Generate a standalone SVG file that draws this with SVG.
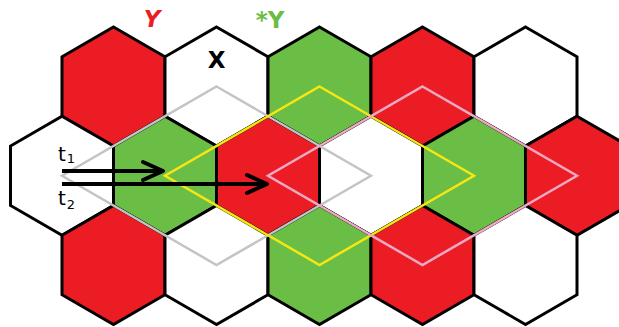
<svg xmlns="http://www.w3.org/2000/svg" xmlns:xlink="http://www.w3.org/1999/xlink" width="619" height="327" viewBox="0 0 619 327">
<style>
.hex{stroke:#000;stroke-width:3;stroke-linejoin:miter}
.r{fill:#ec1c24}
.g{fill:#6abd45}
.w{fill:#fff}
.rh{fill:none;stroke-width:2.5;stroke-linejoin:miter}
.gray{stroke:#c4c4c4}
.yel{stroke:#f7e614}
.pink{stroke:#eeaac4}
.arr{fill:none;stroke:#000;stroke-width:4;marker-end:url(#chev)}
.lbl{font-family:"DejaVu Sans","Liberation Sans",sans-serif;font-weight:bold;font-size:23px;text-anchor:middle}
.t{font-family:"DejaVu Sans","Liberation Sans",sans-serif;font-size:20px;fill:#000}
</style>
<defs>
<polygon id="hx" points="0,-59.5 51.5,-29.75 51.5,29.75 0,59.5 -51.5,29.75 -51.5,-29.75"/>
<marker id="chev" markerUnits="userSpaceOnUse" markerWidth="40" markerHeight="40" refX="24" refY="14" orient="auto" overflow="visible">
<path d="M4,5 L24,14 L4,23" fill="none" stroke="#000" stroke-width="4" stroke-linecap="round" stroke-linejoin="round"/>
</marker>
</defs>
<rect width="619" height="327" fill="#fff"/>
<g id="row1">
<g id="h1-1"><use xlink:href="#hx" x="113.5" y="86.5" class="hex r"/></g>
<g id="h1-2"><use xlink:href="#hx" x="216.5" y="86.5" class="hex w"/></g>
<g id="h1-3"><use xlink:href="#hx" x="319.5" y="86.5" class="hex g"/></g>
<g id="h1-4"><use xlink:href="#hx" x="422.5" y="86.5" class="hex r"/></g>
<g id="h1-5"><use xlink:href="#hx" x="525.5" y="86.5" class="hex w"/></g>
</g>
<g id="row2">
<g id="h2-1"><use xlink:href="#hx" x="62" y="175.75" class="hex w"/></g>
<g id="h2-2"><use xlink:href="#hx" x="165" y="175.75" class="hex g"/></g>
<g id="h2-3"><use xlink:href="#hx" x="268" y="175.75" class="hex r"/></g>
<g id="h2-4"><use xlink:href="#hx" x="371" y="175.75" class="hex w"/></g>
<g id="h2-5"><use xlink:href="#hx" x="474" y="175.75" class="hex g"/></g>
<g id="h2-6"><use xlink:href="#hx" x="577" y="175.75" class="hex r"/></g>
</g>
<g id="row3">
<g id="h3-1"><use xlink:href="#hx" x="113.5" y="265" class="hex r"/></g>
<g id="h3-2"><use xlink:href="#hx" x="216.5" y="265" class="hex w"/></g>
<g id="h3-3"><use xlink:href="#hx" x="319.5" y="265" class="hex g"/></g>
<g id="h3-4"><use xlink:href="#hx" x="422.5" y="265" class="hex r"/></g>
<g id="h3-5"><use xlink:href="#hx" x="525.5" y="265" class="hex w"/></g>
</g>
<g id="rhombi">
<polygon class="rh gray" points="216.5,86.5 371,175.75 216.5,265 62,175.75"/>
<polygon class="rh yel" points="319.5,86.5 474,175.75 319.5,265 165,175.75"/>
<polygon class="rh pink" points="422.5,86.5 577,175.75 422.5,265 268,175.75"/>
</g>
<g id="connectors">
<path class="arr" d="M62,171 H163"/>
<path class="arr" d="M62,184 H267"/>
</g>
<g id="labels">
<text class="lbl" x="152" y="27" fill="#ec1c24" font-style="italic" font-size="21">Y</text>
<text class="lbl" x="270" y="28" fill="#6abd45">*Y</text>
<text class="lbl" x="216.5" y="68" fill="#000">X</text>
<text class="t" x="58" y="161">t<tspan font-size="13" dy="2" dx="1">1</tspan></text>
<text class="t" x="58" y="205">t<tspan font-size="13" dy="4" dx="1">2</tspan></text>
</g>
</svg>
